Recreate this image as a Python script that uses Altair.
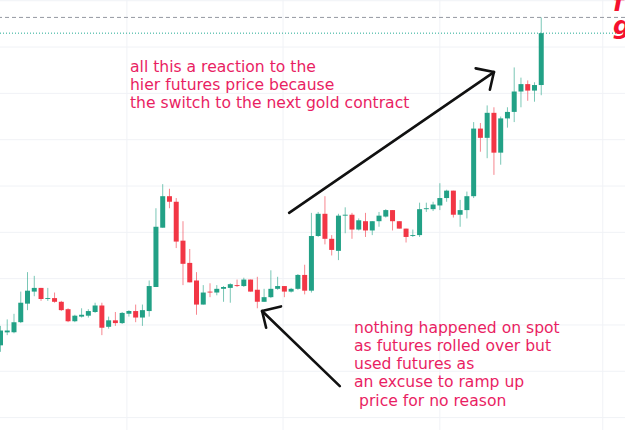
import altair as alt
import pandas as pd

# ---- candle data ----
opens = [1777.8,1779.2,1779.2,1780.3,1782.3,1783.6,1784.0,1782.8,1782.9,1782.5,
         1781.7,1780.4,1780.9,1781.0,1781.4,1782.1,1779.8,1780.5,1780.2,1781.2,
         1781.5,1780.8,1781.5,1784.1,1790.5,1793.9,1793.3,1789.1,1786.7,1784.8,
         1782.2,1783.6,1783.5,1783.9,1784.0,1784.3,1784.2,1784.9,1783.8,1782.5,
         1783.0,1783.9,1784.2,1783.6,1783.9,1785.4,1783.7,1789.6,1792.0,1789.3,
         1788.0,1791.8,1791.9,1790.3,1791.2,1790.2,1791.2,1791.7,1792.4,1791.2,
         1790.4,1789.6,1789.7,1792.5,1792.5,1792.9,1793.7,1794.5,1791.9,1792.4,
         1793.9,1801.2,1800.2,1802.9,1798.6,1802.3,1803.0,1805.2,1806.0,1805.3,
         1805.9]
highs = [1779.9,1780.6,1781.2,1783.6,1785.7,1785.3,1784.0,1784.0,1783.5,1782.6,
         1781.8,1781.1,1781.8,1781.7,1782.4,1782.4,1780.9,1781.4,1781.4,1781.6,
         1782.2,1782.2,1784.8,1792.6,1795.2,1794.7,1793.7,1791.2,1788.2,1785.7,
         1784.3,1784.5,1784.3,1784.2,1784.5,1784.9,1785.1,1784.9,1785.2,1783.9,
         1785.9,1785.2,1784.2,1784.0,1785.5,1786.5,1792.1,1792.2,1793.9,1789.7,
         1792.0,1792.7,1792.1,1791.5,1792.1,1791.2,1792.2,1792.5,1792.4,1791.2,
         1790.4,1790.3,1793.2,1793.2,1793.3,1795.3,1794.6,1794.5,1793.5,1794.4,
         1801.9,1801.8,1803.7,1803.5,1802.5,1803.5,1807.8,1806.7,1806.4,1806.2,
         1813.2]
lows = [1777.1,1778.9,1779.1,1780.2,1781.6,1783.1,1782.6,1782.6,1782.4,1781.5,
        1780.3,1780.3,1780.8,1780.8,1781.3,1778.9,1779.6,1779.9,1780.1,1780.9,
        1780.3,1779.9,1780.9,1784.1,1790.5,1792.6,1788.3,1784.3,1784.6,1781.1,
        1782.2,1783.0,1783.2,1782.5,1782.4,1784.1,1784.1,1783.6,1781.8,1782.5,
        1782.9,1783.8,1783.0,1783.5,1783.8,1783.3,1783.5,1789.5,1788.7,1787.5,
        1787.0,1789.9,1789.3,1790.2,1789.5,1789.7,1790.6,1791.6,1790.2,1790.4,
        1788.9,1789.5,1789.5,1792.2,1792.3,1792.4,1793.3,1791.6,1790.6,1791.5,
        1793.7,1798.7,1798.0,1796.2,1797.3,1801.3,1801.9,1803.5,1804.2,1804.1,
        1804.8]
closes = [1779.4,1779.4,1780.3,1782.4,1783.7,1784.0,1782.8,1782.9,1782.5,1781.6,
          1780.4,1781.0,1781.1,1781.5,1782.1,1779.7,1780.5,1780.2,1781.3,1781.5,
          1780.8,1781.6,1784.2,1790.6,1793.9,1793.3,1789.0,1786.6,1784.6,1782.2,
          1783.5,1783.5,1783.9,1784.1,1784.4,1784.2,1784.9,1783.6,1782.5,1783.0,
          1783.9,1784.2,1783.6,1783.9,1785.4,1783.7,1789.6,1792.0,1789.3,1788.1,
          1791.8,1791.9,1790.3,1791.3,1790.2,1791.2,1791.8,1792.4,1791.2,1790.4,
          1789.5,1789.7,1792.5,1792.6,1793.0,1793.7,1794.5,1791.9,1792.4,1793.9,
          1801.2,1800.2,1802.9,1798.6,1802.3,1803.0,1805.2,1806.0,1805.3,1805.9,
          1811.5]

grid_prices = [1770, 1775, 1780, 1785, 1790, 1795, 1800, 1805, 1810, 1815]
grid_bars = [18.7, 41.8, 65.0, 89.1]

note_top = ["all this a reaction to the",
            "hier futures price because",
            "the switch to the next gold contract"]
note_bottom = ["nothing happened on spot",
               "as futures rolled over but",
               "used futures as",
               "an excuse to ramp up"]
note_bottom_last = "price for no reason"
corner_text = ["f", "gold"]

# arrows (bar index, price) start -> tip, plus two head barbs
arrow_x1 = [42.7, 73.0, 73.0, 50.2, 38.7, 38.7]
arrow_y1 = [1792.1, 1807.3, 1807.3, 1773.4, 1781.5, 1781.5]
arrow_x2 = [73.0, 70.3, 72.4, 38.7, 41.5, 39.3]
arrow_y2 = [1807.3, 1807.7, 1805.4, 1781.5, 1782.0, 1779.7]

UP = "#22a186"
DOWN = "#f23645"
NOTE = "#e91e63"

n = len(opens)
df = pd.DataFrame({
    "bar": list(range(n)),
    "open": opens, "high": highs, "low": lows, "close": closes,
})
df["dir"] = ["up" if c >= o else "down" for o, c in zip(opens, closes)]

xs = alt.Scale(domain=[-0.07, 92.39], nice=False, zero=False, padding=0)
ys = alt.Scale(domain=[1768.66, 1815.08], nice=False, zero=False, padding=0)
col = alt.Color("dir:N", scale=alt.Scale(domain=["up", "down"], range=[UP, DOWN]), legend=None)

hgrid = alt.Chart(pd.DataFrame({"p": grid_prices})).mark_rule(
    color="#f0f2f6", strokeWidth=1, clip=True).encode(y=alt.Y("p:Q", scale=ys, axis=None))
vgrid = alt.Chart(pd.DataFrame({"b": grid_bars})).mark_rule(
    color="#f0f2f6", strokeWidth=1, clip=True).encode(x=alt.X("b:Q", scale=xs, axis=None))

base = alt.Chart(df)
wicks = base.mark_rule(strokeWidth=1, opacity=0.6, clip=True).encode(
    x=alt.X("bar:Q", scale=xs, axis=None),
    y=alt.Y("low:Q", scale=ys, axis=None), y2="high:Q", color=col)
bodies = base.mark_bar(size=5, clip=True).encode(
    x=alt.X("bar:Q", scale=xs, axis=None),
    y=alt.Y("open:Q", scale=ys, axis=None), y2="close:Q", color=col)

lines_df = pd.DataFrame({"p": [highs[-1], closes[-1]], "k": ["high", "last"]})
high_line = alt.Chart(lines_df[lines_df.k == "high"]).mark_rule(
    color="#9598a1", strokeWidth=1, strokeDash=[4, 3], clip=True).encode(
    y=alt.Y("p:Q", scale=ys, axis=None))
last_line = alt.Chart(lines_df[lines_df.k == "last"]).mark_rule(
    color="#22ab94", strokeWidth=1, strokeDash=[1, 2], clip=True).encode(
    y=alt.Y("p:Q", scale=ys, axis=None))

arr_df = pd.DataFrame({"x1": arrow_x1, "y1": arrow_y1, "x2": arrow_x2, "y2": arrow_y2})
arrows = alt.Chart(arr_df).mark_rule(
    color="#111111", strokeWidth=2.6, strokeCap="round", clip=True).encode(
    x=alt.X("x1:Q", scale=xs, axis=None), y=alt.Y("y1:Q", scale=ys, axis=None),
    x2="x2:Q", y2="y2:Q")

txt_df = pd.DataFrame({
    "x": [19.16, 52.3], "y": [1807.3, 1779.1],
    "t": [note_top, note_bottom],
})
notes = alt.Chart(txt_df).mark_text(
    align="left", baseline="alphabetic", font="DejaVu Sans", fontSize=15.6,
    lineHeight=18, color=NOTE, clip=True).encode(
    x=alt.X("x:Q", scale=xs, axis=None), y=alt.Y("y:Q", scale=ys, axis=None),
    text="t")

last_df = pd.DataFrame({"x": [52.3], "y": [1771.3], "t": [note_bottom_last]})
notes_last = alt.Chart(last_df).mark_text(
    align="left", baseline="alphabetic", font="DejaVu Sans", fontSize=15.6,
    color=NOTE, dx=5, clip=True).encode(
    x=alt.X("x:Q", scale=xs, axis=None), y=alt.Y("y:Q", scale=ys, axis=None),
    text="t")

corner_df = pd.DataFrame({"x": [90.6], "y": [1813.9], "t": [corner_text]})
corner = alt.Chart(corner_df).mark_text(
    align="left", baseline="alphabetic", font="DejaVu Sans", fontSize=25,
    fontWeight="bold", fontStyle="italic", lineHeight=23, color="#f5102e", clip=True).encode(
    x=alt.X("x:Q", scale=xs, axis=None), y=alt.Y("y:Q", scale=ys, axis=None),
    text="t")

chart = alt.layer(hgrid, vgrid, high_line, last_line, wicks, bodies, arrows,
                  notes, notes_last, corner).properties(
    width=625, height=430,
    autosize=alt.AutoSizeParams(type="fit", contains="padding"),
    padding=0,
    background="white",
).configure_view(stroke=None)

chart.save("out.html", embed_options={"renderer": "svg", "actions": False})
